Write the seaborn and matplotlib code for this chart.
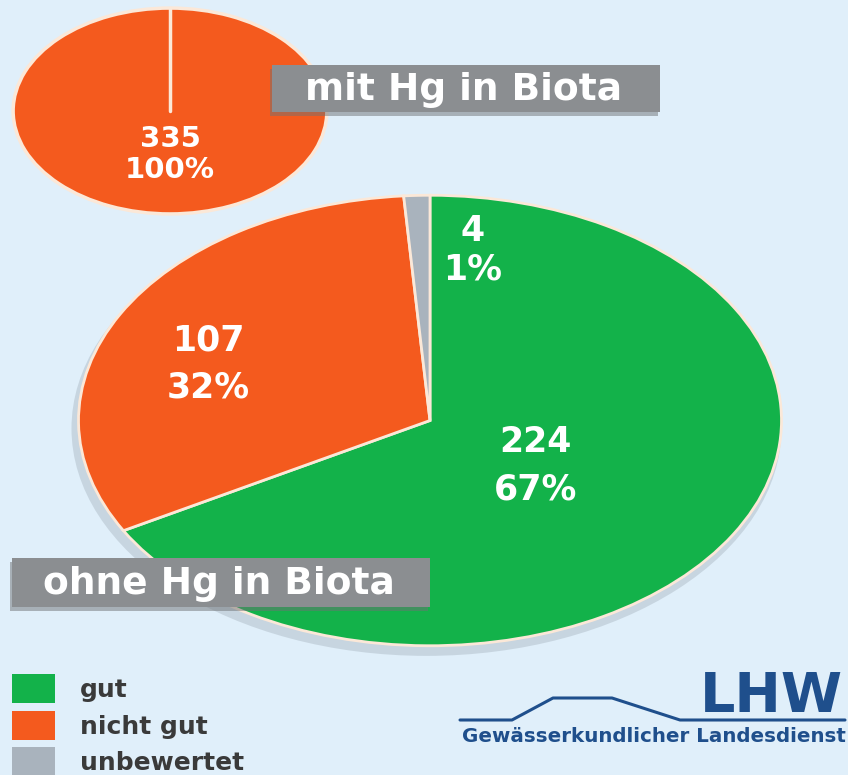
import matplotlib
matplotlib.use("Agg")
import matplotlib.pyplot as plt
import seaborn as sns
from matplotlib.patches import Rectangle, Patch, Ellipse

# ========== data ==========
categories = ["gut", "nicht gut", "unbewertet"]
colors = ["#13b24a", "#f45a1e", "#a9b3bd"]

mit_values = [0, 335, 0]          # mit Hg in Biota
ohne_values = [224, 107, 4]       # ohne Hg in Biota

titles = ["mit Hg in Biota", "ohne Hg in Biota"]

BG = "#e0effa"
EDGE = "#fbe8d8"
BOLD = ["DejaVu Sans", "Open Sans"]

sns.set_theme(style="white")
plt.rcParams["font.family"] = BOLD

W, H = 848, 775
fig = plt.figure(figsize=(W / 100, H / 100), dpi=100)
fig.patch.set_facecolor(BG)


def px_axes(x0, y0, x1, y1):
    # axes placed by pixel box (top-left origin)
    return fig.add_axes([x0 / W, 1 - y1 / H, (x1 - x0) / W, (y1 - y0) / H])


def label_text(n, total):
    return f"{n}\n{round(100 * n / total)}%"


# ---------- small pie: mit Hg in Biota ----------
ax1 = px_axes(10, 6, 330, 216)
vals = [v for v in mit_values if v > 0]
cols = [c for v, c in zip(mit_values, colors) if v > 0]
ax1.pie(vals, colors=cols, startangle=90, counterclock=False,
        wedgeprops=dict(edgecolor=EDGE, linewidth=2.5))
ax1.plot([0, 0], [0, 1], color=EDGE, lw=2.5)
ax1.set_aspect("auto")
ax1.set_xlim(-1.02, 1.02)
ax1.set_ylim(-1.02, 1.02)
ax1.text(0, -0.42, label_text(sum(vals), sum(vals)), ha="center", va="center",
         color="white", fontsize=21, fontweight="bold", linespacing=1.12)

# ---------- large pie: ohne Hg in Biota ----------
ax2 = px_axes(75, 193, 785, 648)
# soft shadow under the pie
ax2.add_patch(Ellipse((-0.01, -0.035), 2.02, 2.02, color="#8e9aa6", alpha=0.3,
                      lw=0, zorder=0, clip_on=False))
wedges, _ = ax2.pie(ohne_values, colors=colors, startangle=90, counterclock=False,
                    wedgeprops=dict(edgecolor=EDGE, linewidth=2))
ax2.set_aspect("auto")
ax2.set_xlim(-1.01, 1.01)
ax2.set_ylim(-1.01, 1.01)
# label centre (axes data) and line spacing
label_pos = [(0.30, -0.2, 1.5), (-0.63, 0.25, 1.5), (0.12, 0.755, 1.15)]
total = sum(ohne_values)
for n, (lx, ly, ls) in zip(ohne_values, label_pos):
    ax2.text(lx, ly, label_text(n, total), ha="center", va="center",
             color="white", fontsize=25, fontweight="bold", linespacing=ls)

# ---------- overlay: title boxes, legend, logo ----------
ov = fig.add_axes([0, 0, 1, 1])
ov.set_xlim(0, W)
ov.set_ylim(H, 0)
ov.axis("off")
ov.patch.set_alpha(0)

for (x0, y0, x1, y1), t in zip([(272, 65, 660, 112), (12, 558, 430, 607)], titles):
    ov.add_patch(Rectangle((x0 - 2, y0 + 4), x1 - x0, y1 - y0, color="#6f7275", alpha=0.5, lw=0))
    ov.add_patch(Rectangle((x0, y0), x1 - x0, y1 - y0, color="#8b8e91", lw=0))
    ov.text((x0 + x1) / 2 - 2, (y0 + y1) / 2 + 1, t, ha="center", va="center",
            color="white", fontsize=27, fontweight="bold")

handles = [Patch(facecolor=c, edgecolor="none") for c in colors]
ov.legend(handles, categories, loc="upper left", bbox_to_anchor=(12 / W, 1 - 674 / H),
          bbox_transform=fig.transFigure, frameon=False,
          prop=dict(family=BOLD, weight="bold", size=18),
          handlelength=1.72, handleheight=1.42, labelspacing=0.3,
          handletextpad=1.0, borderpad=0, borderaxespad=0,
          labelcolor="#3a3a3a")

# LHW logo
logo = "#1f4f8c"
ov.plot([460, 512, 553, 612, 680, 845], [720, 720, 698, 698, 720, 720],
        color=logo, lw=2.2, solid_joinstyle="round")
ov.text(843, 697, "LHW", ha="right", va="center", color=logo,
        fontsize=40, fontweight="bold")
ov.text(846, 736, "Gewässerkundlicher Landesdienst", ha="right", va="center",
        color=logo, fontsize=14.3, fontweight="bold")

fig.savefig("out.png", dpi=100, facecolor=BG)
